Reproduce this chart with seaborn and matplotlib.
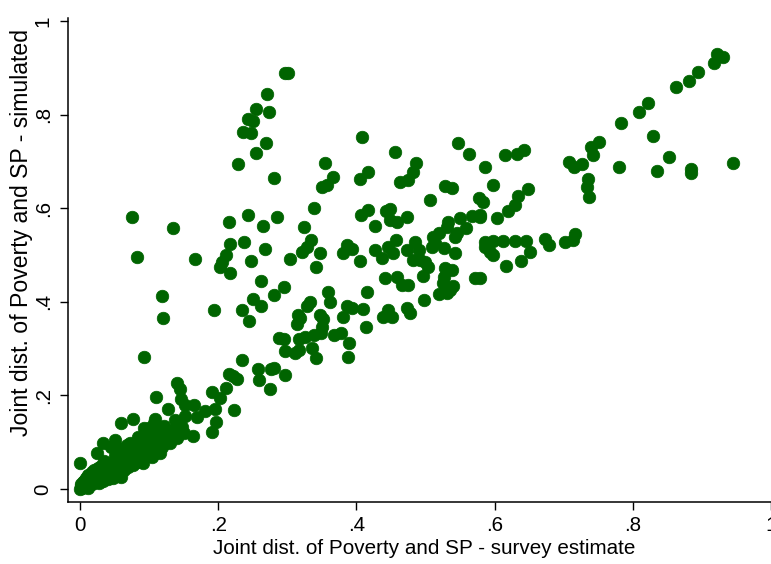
import matplotlib
matplotlib.use("Agg")
import matplotlib.pyplot as plt
import seaborn as sns
import pandas as pd

# Joint distribution of poverty and social protection: survey estimate vs simulated
survey_est = [
    # upper-left arm
    0.297, 0.301, 0.271, 0.254, 0.274, 0.243, 0.251, 0.236, 0.248, 0.269, 0.254, 0.228,
    0.281, 0.354, 0.366, 0.357, 0.350,
    # upper-right arm
    0.922, 0.931, 0.917, 0.894, 0.882, 0.863, 0.822, 0.809, 0.783, 0.751, 0.829, 0.853,
    0.780, 0.835, 0.884, 0.884, 0.945,
    # right middle
    0.739, 0.743, 0.707, 0.715, 0.727, 0.735, 0.733, 0.737, 0.615, 0.632, 0.643, 0.586,
    0.598, 0.649, 0.634, 0.630, 0.620, 0.579, 0.603,
    0.586, 0.598, 0.612, 0.630, 0.646, 0.673, 0.679, 0.702, 0.714, 0.716,
    0.651, 0.617, 0.638, 0.579,
    # centre
    0.408, 0.456, 0.417, 0.405, 0.486, 0.482, 0.475, 0.463, 0.547, 0.563, 0.528, 0.538,
    0.507, 0.577, 0.583, 0.339, 0.417, 0.406, 0.448, 0.443, 0.449, 0.459, 0.473, 0.427,
    0.324, 0.550, 0.567, 0.579, 0.533, 0.531, 0.559, 0.545, 0.543, 0.519, 0.511, 0.514,
    0.509, 0.586, 0.593, 0.598, 0.485, 0.490, 0.482, 0.492, 0.499, 0.504, 0.527, 0.543,
    0.473, 0.458, 0.446, 0.453, 0.427, 0.437, 0.387, 0.393, 0.381, 0.405, 0.342, 0.348,
    0.335, 0.328, 0.321, 0.528, 0.539, 0.527, 0.525, 0.497, 0.572, 0.441, 0.459, 0.466,
    0.475, 0.540, 0.535, 0.531, 0.519, 0.498, 0.415, 0.359, 0.362, 0.333, 0.329, 0.387,
    0.393, 0.409, 0.446, 0.439, 0.451, 0.473, 0.477, 0.347, 0.381,
    # left-centre
    0.216, 0.243, 0.265, 0.285, 0.217, 0.237, 0.268, 0.212, 0.205, 0.202, 0.217, 0.167,
    0.248, 0.304, 0.262, 0.295, 0.250, 0.262, 0.281, 0.194, 0.234, 0.245, 0.316, 0.318,
    0.314, 0.352, 0.350, 0.349, 0.414, 0.288, 0.295, 0.317, 0.326, 0.338, 0.367, 0.378,
    0.389, 0.296, 0.311, 0.317, 0.336, 0.342, 0.388, 0.235,
    0.075, 0.134, 0.083, 0.118, 0.120, 0.093,
    0.257, 0.259, 0.275, 0.277, 0.281, 0.297,
    # lower diagonal
    0.215, 0.222, 0.227, 0.212, 0.191, 0.203, 0.223, 0.195, 0.181, 0.169, 0.197, 0.191,
    0.141, 0.144, 0.110, 0.146, 0.152, 0.165, 0.128, 0.137, 0.152, 0.147, 0.135, 0.164,
    0.108, 0.107, 0.076, 0.060, 0.092, 0.097, 0.118, 0.111, 0.125, 0.034, 0.051, 0.060,
    0.091, 0.000, 0.024, 0.104, 0.116, 0.048, 0.060,
    # dense cluster near the origin
    0.000, 0.003, 0.005, 0.002, 0.008, 0.010, 0.006, 0.012, 0.014, 0.016, 0.018, 0.020,
    0.022, 0.024, 0.026, 0.028, 0.030, 0.032, 0.034, 0.036, 0.038, 0.040, 0.042, 0.044,
    0.046, 0.048, 0.050, 0.052, 0.054, 0.056, 0.058, 0.060, 0.062, 0.064, 0.066, 0.068,
    0.070, 0.072, 0.074, 0.076, 0.078, 0.080, 0.082, 0.085, 0.088, 0.090, 0.093, 0.096,
    0.098, 0.102, 0.105, 0.108, 0.112, 0.115, 0.118, 0.122, 0.125, 0.130, 0.135, 0.140,
    0.145, 0.150, 0.012, 0.018, 0.026, 0.038, 0.050, 0.064, 0.072, 0.045, 0.030, 0.015,
    0.008, 0.020, 0.035, 0.055, 0.068, 0.084, 0.100, 0.004, 0.001, 0.011,
]
simulated = [
    0.889, 0.889, 0.844, 0.811, 0.805, 0.791, 0.786, 0.763, 0.761, 0.739, 0.719, 0.694,
    0.664, 0.697, 0.666, 0.650, 0.646,
    0.929, 0.924, 0.911, 0.892, 0.872, 0.860, 0.824, 0.806, 0.781, 0.741, 0.754, 0.709,
    0.687, 0.680, 0.683, 0.676, 0.696,
    0.731, 0.714, 0.698, 0.687, 0.694, 0.663, 0.646, 0.623, 0.714, 0.716, 0.724, 0.689,
    0.650, 0.641, 0.625, 0.607, 0.595, 0.582, 0.580,
    0.528, 0.530, 0.530, 0.530, 0.530, 0.534, 0.521, 0.528, 0.531, 0.545,
    0.507, 0.476, 0.487, 0.450,
    0.753, 0.721, 0.677, 0.662, 0.697, 0.678, 0.660, 0.657, 0.739, 0.716, 0.647, 0.644,
    0.617, 0.621, 0.614, 0.600, 0.596, 0.585, 0.598, 0.593, 0.575, 0.570, 0.581, 0.561,
    0.559, 0.578, 0.583, 0.585, 0.571, 0.560, 0.557, 0.546, 0.539, 0.546, 0.539, 0.525,
    0.518, 0.518, 0.507, 0.500, 0.527, 0.511, 0.489, 0.489, 0.486, 0.475, 0.516, 0.504,
    0.511, 0.532, 0.518, 0.504, 0.511, 0.493, 0.521, 0.512, 0.504, 0.488, 0.475, 0.504,
    0.531, 0.518, 0.507, 0.472, 0.468, 0.454, 0.441, 0.455, 0.450, 0.450, 0.454, 0.436,
    0.436, 0.434, 0.425, 0.418, 0.417, 0.404, 0.420, 0.422, 0.400, 0.400, 0.390, 0.390,
    0.386, 0.384, 0.382, 0.368, 0.368, 0.386, 0.377, 0.372, 0.368,
    0.570, 0.586, 0.562, 0.582, 0.524, 0.527, 0.512, 0.500, 0.486, 0.475, 0.461, 0.492,
    0.488, 0.492, 0.445, 0.432, 0.406, 0.390, 0.415, 0.382, 0.382, 0.360, 0.372, 0.365,
    0.353, 0.363, 0.347, 0.333, 0.347, 0.322, 0.320, 0.320, 0.325, 0.329, 0.329, 0.333,
    0.313, 0.295, 0.291, 0.296, 0.302, 0.279, 0.283, 0.276,
    0.582, 0.558, 0.496, 0.412, 0.365, 0.281,
    0.257, 0.233, 0.213, 0.256, 0.258, 0.244,
    0.245, 0.241, 0.234, 0.215, 0.208, 0.195, 0.169, 0.170, 0.167, 0.153, 0.144, 0.122,
    0.227, 0.213, 0.197, 0.192, 0.179, 0.179, 0.170, 0.147, 0.155, 0.133, 0.126, 0.114,
    0.150, 0.140, 0.150, 0.140, 0.130, 0.112, 0.105, 0.119, 0.115, 0.098, 0.105, 0.083,
    0.055, 0.055, 0.076, 0.069, 0.076, 0.023, 0.026,
    0.000, 0.002, 0.006, 0.010, 0.004, 0.012, 0.018, 0.008, 0.020, 0.014, 0.010, 0.024,
    0.016, 0.030, 0.020, 0.012, 0.035, 0.026, 0.018, 0.040, 0.030, 0.022, 0.046, 0.034,
    0.026, 0.052, 0.040, 0.030, 0.060, 0.046, 0.034, 0.068, 0.052, 0.040, 0.076, 0.058,
    0.046, 0.084, 0.064, 0.052, 0.092, 0.070, 0.058, 0.100, 0.078, 0.066, 0.108, 0.086,
    0.074, 0.118, 0.094, 0.082, 0.128, 0.100, 0.090, 0.135, 0.108, 0.098, 0.118, 0.110,
    0.128, 0.120, 0.030, 0.036, 0.044, 0.056, 0.070, 0.088, 0.098, 0.090, 0.050, 0.026,
    0.024, 0.040, 0.060, 0.080, 0.094, 0.112, 0.130, 0.016, 0.006, 0.003,
]

x_ticks = [0, 0.2, 0.4, 0.6, 0.8, 1.0]
y_ticks = [0, 0.2, 0.4, 0.6, 0.8, 1.0]
tick_labels = ["0", ".2", ".4", ".6", ".8", "1"]
x_title = "Joint dist. of Poverty and SP - survey estimate"
y_title = "Joint dist. of Poverty and SP - simulated"

df = pd.DataFrame({"survey": survey_est, "sim": simulated})

sns.set_style("white")
plt.rcParams["font.family"] = ["Liberation Sans", "DejaVu Sans"]
plt.rcParams["text.color"] = "black"
plt.rcParams["xtick.color"] = "black"
plt.rcParams["ytick.color"] = "black"

W, H = 771, 564
fig = plt.figure(figsize=(W / 100, H / 100), dpi=100)
ax = fig.add_axes([68 / W, (H - 502) / H, (781 - 68) / W, (502 - 18) / H])

sns.scatterplot(data=df, x="survey", y="sim", ax=ax, color="#006400",
                edgecolor="#006400", linewidth=0.5, s=82, alpha=1, legend=False)

ax.set_xlim((68 - 80) / 691, (781 - 80) / 691)
ax.set_ylim((489 - 502) / 468, (489 - 18) / 468)

fs = 14.9
ax.set_xticks(x_ticks)
ax.set_xticklabels(tick_labels, fontsize=fs, color="black")
ax.set_yticks(y_ticks)
ax.set_yticklabels(tick_labels, fontsize=fs, rotation=90, va="center", color="black")
ax.tick_params(axis="both", direction="out", length=6, width=1.0, color="black",
               left=True, bottom=True)
ax.tick_params(axis="x", pad=4)
ax.tick_params(axis="y", pad=5)

for side in ("top", "right"):
    ax.spines[side].set_visible(False)
for side in ("left", "bottom"):
    ax.spines[side].set_color("black")
    ax.spines[side].set_linewidth(1.1)

ax.set_xlabel("")
ax.set_ylabel("")
fig.text(424 / W, 1 - 549 / H, x_title, fontsize=fs, ha="center", va="center",
         color="black")
fig.text(22 / W, 1 - 233 / H, y_title, fontsize=16.6, ha="center", va="center",
         rotation=90, color="black")

fig.savefig("out.png", dpi=100, facecolor="white")
